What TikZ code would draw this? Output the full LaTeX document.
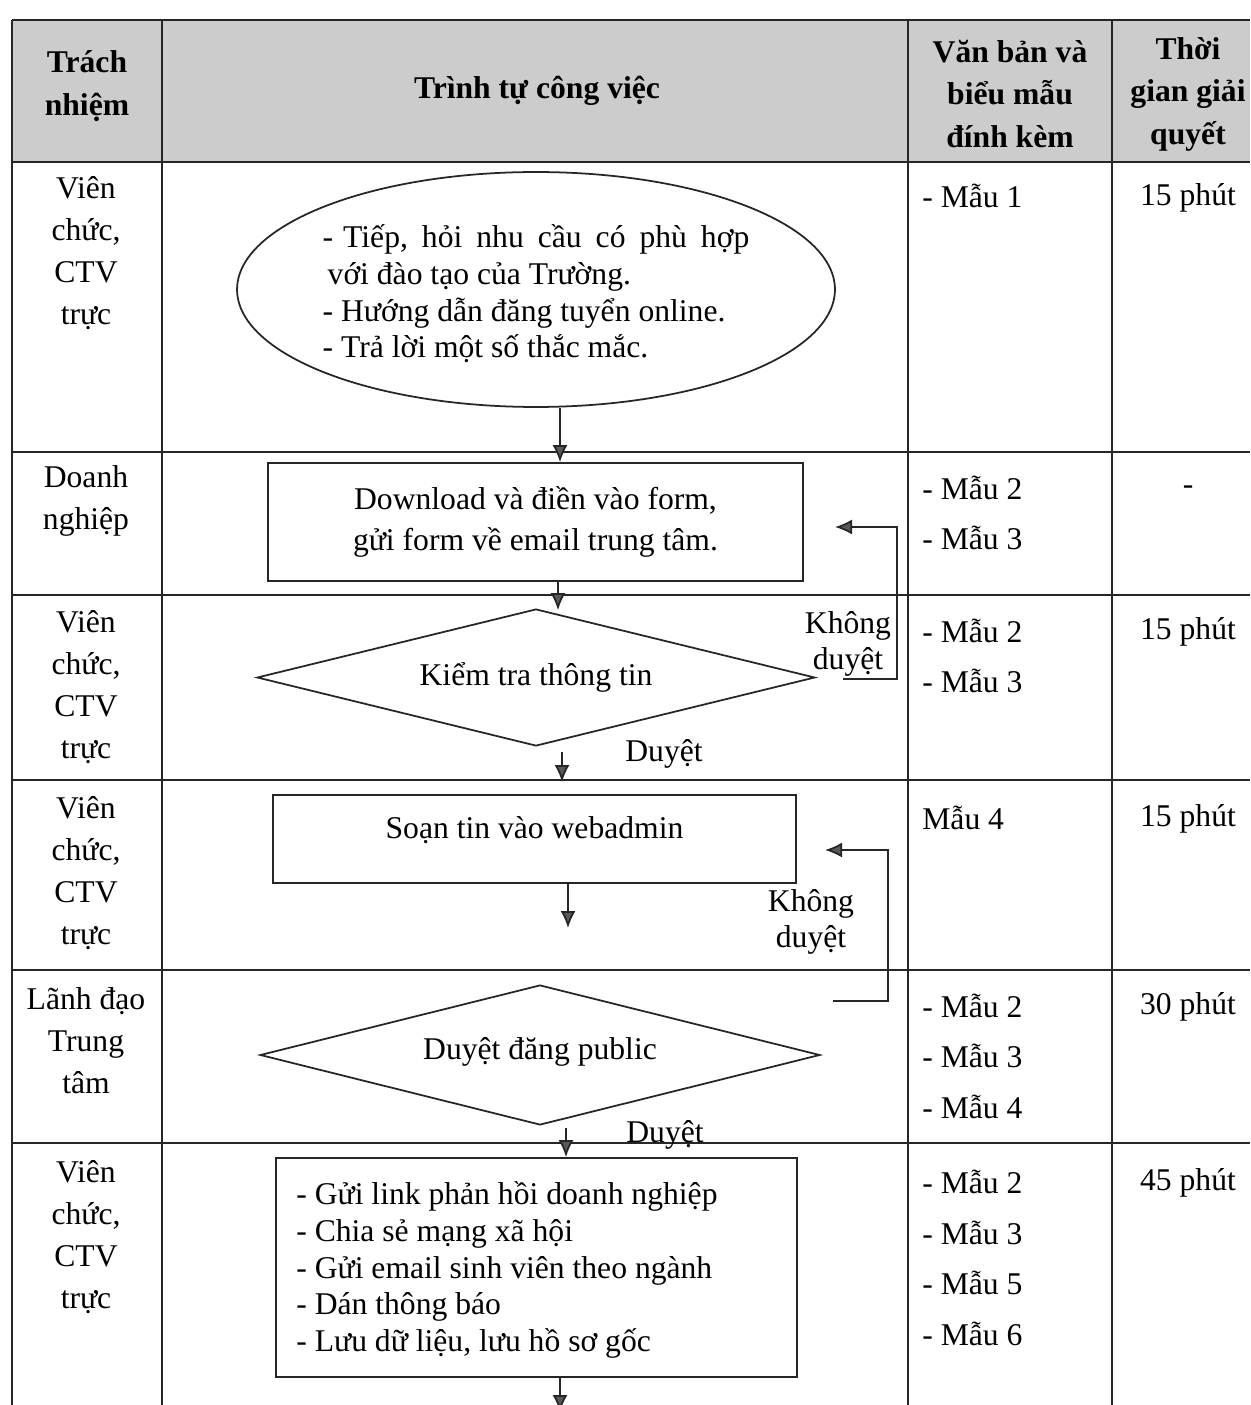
\documentclass[tikz,border=0pt]{standalone}
\usepackage{fontspec}
\setmainfont{Liberation Serif}
\usetikzlibrary{shapes.geometric,arrows.meta,calc}
\newcommand{\wsp}{\hspace{0.28cm}}
\begin{document}
\begin{tikzpicture}[x=0.02cm,y=-0.02cm,
  txt/.style={font=\fontsize{18}{23.9}\selectfont, inner sep=0pt, align=center},
  hdr/.style={font=\fontsize{18}{24.2}\selectfont\bfseries, inner sep=0pt, align=center},
  mau/.style={font=\fontsize{18}{28.7}\selectfont, inner sep=0pt, align=left, anchor=west},
  inbox/.style={font=\fontsize{18}{20.9}\selectfont, inner sep=0pt},
  grid/.style={line width=1.1pt, draw=black!85},
  shp/.style={draw=black!85, line width=1pt, inner sep=0pt},
  arr/.style={draw=black!85, line width=1pt, -{Latex[length=0.34cm,width=0.3cm,fill=black!65]}},
  lp/.style={draw=black!85, line width=1pt}
]
\useasboundingbox (0,0) rectangle (1250,1405);
% header background
\fill[black!20] (12,20) rectangle (1250,162);
% table lines
\draw[grid] (12,20) -- (1250,20);
\draw[grid, line width=1.6pt] (12,162) -- (1250,162);
\foreach \yy in {452,595,780,970,1143} \draw[grid] (12,\yy) -- (1250,\yy);
\foreach \xx in {12,162,908,1112} \draw[grid] (\xx,20) -- (\xx,1405);

% header text
\node[hdr] (h1) at (87,86) {Trách\\nhiệm};
\node[hdr] (h2) at (537,91) {Trình tự công việc};
\node[hdr] (h3) at (1010,94) {Văn bản và\\biểu mẫu\\đính kèm};
\node[hdr] (h4) at (1188,94) {Thời\\gian giải\\quyết};

% responsibility column
\node[txt] (r1) at (86,253) {Viên\\chức,\\CTV\\trực};
\node[txt] (r2) at (86,501) {Doanh\\nghiệp};
\node[txt] (r3) at (86,687) {Viên\\chức,\\CTV\\trực};
\node[txt] (r4) at (86,873) {Viên\\chức,\\CTV\\trực};
\node[txt] (r5) at (86,1041) {Lãnh đạo\\Trung\\tâm};
\node[txt] (r6) at (86,1237) {Viên\\chức,\\CTV\\trực};

% forms column
\node[mau] (m1) at (922,196) {- Mẫu 1};
\node[mau] (m2) at (922,513) {- Mẫu 2\\- Mẫu 3};
\node[mau] (m3) at (922,656) {- Mẫu 2\\- Mẫu 3};
\node[mau] (m4) at (922,818) {Mẫu 4};
\node[mau] (m5) at (922,1056) {- Mẫu 2\\- Mẫu 3\\- Mẫu 4};
\node[mau] (m6) at (922,1258) {- Mẫu 2\\- Mẫu 3\\- Mẫu 5\\- Mẫu 6};

% time column
\node[txt] (t1) at (1188,198) {15 phút};
\node[txt] (t2) at (1188,490) {-};
\node[txt] (t3) at (1188,632) {15 phút};
\node[txt] (t4) at (1188,819) {15 phút};
\node[txt] (t5) at (1188,1007) {30 phút};
\node[txt] (t6) at (1188,1183) {45 phút};

% flow shapes
\node[shp, ellipse, minimum width=11.96cm, minimum height=4.7cm] (ell) at (536,289.5) {};
\node[inbox, align=left] (ellt) at (536,294) {-\hspace{0.2cm}Tiếp,\wsp hỏi\wsp nhu\wsp cầu\wsp có\wsp phù\wsp hợp\\\hspace{0.1cm}với đào tạo của Trường.\\- Hướng dẫn đăng tuyển online.\\- Trả lời một số thắc mắc.};

\node[shp, rectangle, minimum width=10.7cm, minimum height=2.36cm] (b2) at (535.5,522) {};
\node[txt, font=\fontsize{18}{23.3}\selectfont] (b2t) at (535.5,522) {Download và điền vào form,\\gửi form về email trung tâm.};

\node[shp, diamond, minimum width=11.16cm, minimum height=2.74cm] (d1) at (536,677.5) {};
\node[txt] (d1t) at (536,677) {Kiểm tra thông tin};

\node[shp, rectangle, minimum width=10.46cm, minimum height=1.76cm] (b4) at (534.5,839) {};
\node[txt] (b4t) at (534.5,830) {Soạn tin vào webadmin};

\node[shp, diamond, minimum width=11.2cm, minimum height=2.8cm] (d2) at (540,1055) {};
\node[txt] (d2t) at (540,1052) {Duyệt đăng public};

\node[shp, rectangle, minimum width=10.42cm, minimum height=4.38cm] (b6) at (536.5,1267.5) {};
\node[inbox, align=left, anchor=west] (b6t) at (296,1270) {- Gửi link phản hồi doanh nghiệp\\- Chia sẻ mạng xã hội\\- Gửi email sinh viên theo ngành\\- Dán thông báo\\- Lưu dữ liệu, lưu hồ sơ gốc};

% labels
\node[txt, font=\fontsize{18}{20.5}\selectfont] (k1) at (848,644) {Không\\duyệt};
\node[txt, font=\fontsize{18}{20.5}\selectfont] (k2) at (811,922) {Không\\duyệt};
\node[txt] (y1) at (664,754) {Duyệt};
\node[txt] (y2) at (665,1135) {Duyệt};

% connector coordinates
\coordinate (c1) at (560,0);
\coordinate (c2) at (558,0);
\coordinate (c3s) at (562,752);
\coordinate (c3e) at (562,782);
\coordinate (c4) at (568,0);
\coordinate (c4e) at (568,928);
\coordinate (c5) at (566,0);
\coordinate (c6) at (560,0);
\coordinate (c6e) at (560,1412);
\coordinate (l1s) at (843,679);
\coordinate (l1c) at (897,0);
\coordinate (l1e) at (835,527);
\coordinate (l2s) at (833,1001);
\coordinate (l2c) at (888,0);
\coordinate (l2e) at (825,850);

% connectors
\draw[arr] (ell.south -| c1) -- (b2.north -| c1);
\draw[arr] (b2.south -| c2) -- ($(d1.north -| c2)+(0,2)$);
\draw[arr] (c3s) -- (c3e);
\draw[arr] (b4.south -| c4) -- (c4e);
\draw[arr] ($(d2.south -| c5)+(0,2)$) -- (b6.north -| c5);
\draw[arr] (b6.south -| c6) -- (c6e);
\draw[arr] (l1s) -- (l1s -| l1c) -- (l1e -| l1c) -- (l1e);
\draw[arr] (l2s) -- (l2s -| l2c) -- (l2e -| l2c) -- (l2e);
\end{tikzpicture}
\end{document}
